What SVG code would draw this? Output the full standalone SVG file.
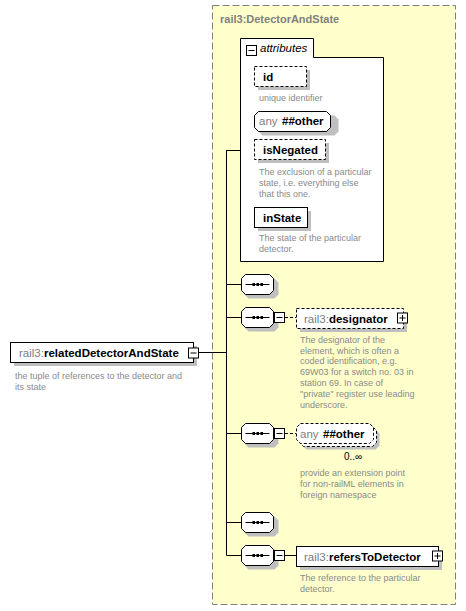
<svg xmlns="http://www.w3.org/2000/svg" width="466" height="611" viewBox="0 0 466 611">
<style>
text{font-family:"Liberation Sans",Arial,sans-serif}
.box{fill:#fff;stroke:#000;stroke-width:1}
.opt{stroke-dasharray:3,2}
.sh{fill:#bfbfbf;stroke:none}
.name{font-size:11.5px;font-weight:bold;fill:#000}
.pre{font-weight:normal;fill:#7a7a8a}
.desc{font-size:9px;fill:#8a8a8a}
.ln{stroke:#000;stroke-width:1;fill:none}
.icon{fill:#fff;stroke:#000;stroke-width:1}
</style>
<defs>
<g id="seqsym">
<path d="M0,0 h24" stroke="#000" stroke-width="1"/>
<rect x="7" y="-1.5" width="2.5" height="3" fill="#000"/>
<rect x="11" y="-1.5" width="2.5" height="3" fill="#000"/>
<rect x="15" y="-1.5" width="2.5" height="3" fill="#000"/>
</g>
<g id="minus"><rect x="0.5" y="0.5" width="10" height="10" class="icon"/><path d="M2.5,5.5 h6" stroke="#000"/></g>
<g id="plus"><rect x="0.5" y="0.5" width="10" height="10" class="icon"/><path d="M2.5,5.5 h6 M5.5,2.5 v6" stroke="#000"/></g>
</defs>

<g id="container">
<rect x="212.5" y="5.5" width="243" height="599" fill="#ffffcc" stroke="#808080" stroke-dasharray="7,3"/>
<text x="220" y="23" font-size="11px" font-weight="bold" fill="#808080">rail3:DetectorAndState</text>
</g>

<g id="connectors">
<path class="ln" d="M226.5,150 V555.5"/>
<path class="ln" d="M226.5,150.5 H240"/>
<path class="ln" d="M198,352.5 H226.5"/>
<path class="ln" d="M226.5,284.5 H241"/>
<path class="ln" d="M226.5,317.5 H241"/>
<path class="ln" d="M226.5,433.5 H241"/>
<path class="ln" d="M226.5,522.5 H241"/>
<path class="ln" d="M226.5,555.5 H241"/>
<path class="ln" d="M285,317.5 H296" stroke-dasharray="3,2"/>
<path class="ln" d="M285,433.5 H296" stroke-dasharray="3,2"/>
<path class="ln" d="M285,555.5 H296"/>
</g>

<g id="attributes">
<path d="M240.5,261.5 V38.5 H313.5 V57.5 H383.5 V261.5 Z" class="box"/>
<use href="#minus" x="246" y="45"/>
<text x="260" y="52" font-size="11.5px" font-style="italic" fill="#000">attributes</text>
</g>

<g id="attr-id">
<rect x="258" y="70" width="52" height="20" class="sh"/>
<rect x="254.5" y="66.5" width="52" height="20" class="box opt"/>
<text x="263" y="81" class="name">id</text>
<text x="259" y="101" class="desc">unique identifier</text>
</g>

<g id="attr-any">
<path d="M262.5,115.5 h72 l4,4 v12 l-4,4 h-72 l-4,-4 v-12 z" class="sh"/>
<path d="M258.5,111.5 h68 l4,4 v12 l-4,4 h-68 l-4,-4 v-12 z" class="box"/>
<text x="259" y="125" font-size="11.5px" fill="#808080">any</text>
<text x="282" y="125" class="name">##other</text>
</g>

<g id="attr-isNegated">
<rect x="258" y="143" width="71" height="20" class="sh"/>
<rect x="254.5" y="139.5" width="71" height="20" class="box opt"/>
<text x="263" y="154" class="name">isNegated</text>
<text class="desc"><tspan x="259" y="175">The exclusion of a particular</tspan><tspan x="259" y="186">state, i.e. everything else</tspan><tspan x="259" y="196.5">that this one.</tspan></text>
</g>

<g id="attr-inState">
<rect x="258" y="211" width="53" height="20" class="sh"/>
<rect x="254.5" y="207.5" width="53" height="20" class="box"/>
<text x="263" y="222" class="name">inState</text>
<text class="desc"><tspan x="259" y="241">The state of the particular</tspan><tspan x="259" y="252">detector.</tspan></text>
</g>

<g id="relatedDetectorAndState">
<rect x="14" y="346" width="183" height="20" class="sh"/>
<rect x="10.5" y="342.5" width="183" height="20" class="box"/>
<text x="19" y="356.5" class="name"><tspan class="pre">rail3:</tspan>relatedDetectorAndState</text>
<use href="#minus" x="188" y="347.5"/>
<text class="desc"><tspan x="15" y="379">the tuple of references to the detector and</tspan><tspan x="15" y="390">its state</tspan></text>
</g>

<g id="seq1">
<path d="M248.5,278.5 h26 l4,4 v12 l-4,4 h-26 l-4,-4 v-12 z" class="sh"/>
<path d="M245.5,274.5 h24 l4,4 v12 l-4,4 h-24 l-4,-4 v-12 z" class="box"/>
<use href="#seqsym" x="245.5" y="284.5"/>
</g>

<g id="seq2">
<path d="M248.5,311.5 h26 l4,4 v12 l-4,4 h-26 l-4,-4 v-12 z" class="sh"/>
<path d="M245.5,307.5 h24 l4,4 v12 l-4,4 h-24 l-4,-4 v-12 z" class="box"/>
<use href="#seqsym" x="245.5" y="317.5"/>
<use href="#minus" x="274" y="312"/>
</g>

<g id="designator">
<rect x="300" y="312" width="107" height="20" class="sh"/>
<rect x="296.5" y="308.5" width="107" height="20" class="box opt"/>
<text x="304" y="322.5" class="name"><tspan class="pre">rail3:</tspan>designator</text>
<use href="#plus" x="397" y="312.5"/>
<text class="desc"><tspan x="300" y="343">The designator of the</tspan><tspan x="300" y="353.5">element, which is often a</tspan><tspan x="300" y="364">coded identification, e.g.</tspan><tspan x="300" y="375">69W03 for a switch no. 03 in</tspan><tspan x="300" y="386">station 69. In case of</tspan><tspan x="300" y="397">"private" register use leading</tspan><tspan x="300" y="408">underscore.</tspan></text>
</g>

<g id="seq3">
<path d="M248.5,427.5 h26 l4,4 v12 l-4,4 h-26 l-4,-4 v-12 z" class="sh"/>
<path d="M245.5,423.5 h24 l4,4 v12 l-4,4 h-24 l-4,-4 v-12 z" class="box"/>
<use href="#seqsym" x="245.5" y="433.5"/>
<use href="#minus" x="274" y="428"/>
</g>

<g id="any-other">
<path d="M306.5,429.5 h69 l4,4 v12 l-4,4 h-69 l-4,-4 v-12 z" class="sh"/>
<path d="M303.5,426.5 h69 l4,4 v12 l-4,4 h-69 l-4,-4 v-12 z" class="box opt"/>
<path d="M300.5,423.5 h69 l4,4 v12 l-4,4 h-69 l-4,-4 v-12 z" class="box opt"/>
<text x="300" y="437.5" font-size="11.5px" fill="#808080">any</text>
<text x="323" y="437.5" class="name">##other</text>
<text x="344" y="460" font-size="10px" fill="#000">0..∞</text>
<text class="desc"><tspan x="300" y="476">provide an extension point</tspan><tspan x="300" y="487">for non-railML elements in</tspan><tspan x="300" y="497.5">foreign namespace</tspan></text>
</g>

<g id="seq4">
<path d="M248.5,516.5 h26 l4,4 v12 l-4,4 h-26 l-4,-4 v-12 z" class="sh"/>
<path d="M245.5,512.5 h24 l4,4 v12 l-4,4 h-24 l-4,-4 v-12 z" class="box"/>
<use href="#seqsym" x="245.5" y="522.5"/>
</g>

<g id="seq5">
<path d="M248.5,549.5 h26 l4,4 v12 l-4,4 h-26 l-4,-4 v-12 z" class="sh"/>
<path d="M245.5,545.5 h24 l4,4 v12 l-4,4 h-24 l-4,-4 v-12 z" class="box"/>
<use href="#seqsym" x="245.5" y="555.5"/>
<use href="#minus" x="274" y="550"/>
</g>

<g id="refersToDetector">
<rect x="300" y="550" width="142" height="20" class="sh"/>
<rect x="296.5" y="546.5" width="142" height="20" class="box"/>
<text x="304" y="560.5" class="name"><tspan class="pre">rail3:</tspan>refersToDetector</text>
<use href="#plus" x="432" y="550.5"/>
<text class="desc"><tspan x="300" y="581">The reference to the particular</tspan><tspan x="300" y="592">detector.</tspan></text>
</g>
</svg>
